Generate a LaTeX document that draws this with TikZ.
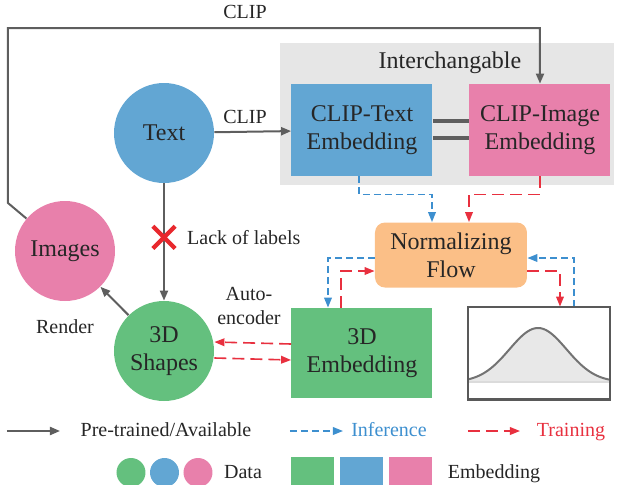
\documentclass[tikz,border=0pt]{standalone}
\usepackage{fontspec}
\setmainfont{Liberation Serif}
\usetikzlibrary{arrows.meta, shapes.misc}

\definecolor{dataBlue}{HTML}{62A6D3}
\definecolor{dataPink}{HTML}{E880AB}
\definecolor{dataGreen}{HTML}{64C07E}
\definecolor{flowOrange}{HTML}{FBBF87}
\definecolor{swapGray}{HTML}{E6E6E6}
\definecolor{preGray}{HTML}{5E5E5E}
\definecolor{infBlue}{HTML}{3D8FCF}
\definecolor{trnRed}{HTML}{E8303F}

\newcommand{\labfont}{\fontsize{12}{14}\selectfont}
\newcommand{\notefont}{\fontsize{10}{12}\selectfont}

\tikzset{
  data/.style={circle, minimum size=50pt, inner sep=0pt, align=center, font=\labfont, text=black!85},
  embed/.style={rectangle, minimum width=70.5pt, minimum height=46pt, inner sep=0pt, align=center, font=\labfont, text=black!85},
  pre/.style={draw=preGray, line width=1pt, -{Triangle[length=5pt, width=4pt]}},
  infer/.style={draw=infBlue, line width=0.8pt, dash pattern=on 3.5pt off 2pt, -{Triangle[length=5pt, width=3.8pt]}},
  train/.style={draw=trnRed, line width=0.8pt, dash pattern=on 6pt off 3pt, -{Triangle[length=5pt, width=3.8pt]}},
  note/.style={font=\notefont, text=black!85},
  keytext/.style={note, anchor=base},
}

\begin{document}
\begin{tikzpicture}[x=0.5pt, y=-0.5pt]
\useasboundingbox (0,0) rectangle (618,484);

% Interchangable block
\fill[swapGray] (280,43) rectangle (614,185);
\node[font=\labfont, text=black!85] (swap) at (450,63) {Interchangable};

% Define nodes
\node[data, fill=dataBlue] (text) at (164,133) {Text};
\node[data, fill=dataPink] (images) at (65,251) {Images};
\node[data, fill=dataGreen] (shapes) at (164,351) {3D\\Shapes};
\node[embed, fill=dataBlue] (cliptext) at (362,130) {CLIP-Text\\Embedding};
\node[embed, fill=dataPink] (clipimage) at (540,130) {CLIP-Image\\Embedding};
\node[embed, fill=dataGreen, minimum height=45pt] (embed3d) at (362,353) {3D\\Embedding};
\node[rectangle, rounded corners=5pt, fill=flowOrange, minimum width=76pt, minimum height=32.5pt,
  align=center, font=\labfont, text=black!85] (flow) at (451,255) {Normalizing\\Flow};
\node[rectangle, minimum width=70.5pt, minimum height=46pt, inner sep=0pt] (gauss) at (539,353) {};
\coordinate (bend) at (8,203);
\coordinate (corner) at (8,28);

% Pre-trained / available
\draw[pre] (images) -- (bend) -- (corner) -| (clipimage.north);
\node[note] (cliptop) at (245,12) {CLIP};
\draw[pre] (text) -- node[note, above, pos=0.4] {CLIP} (cliptext);
\draw[pre] (text) -- node[cross out, draw={rgb,255:red,232;green,40;blue,45}, line width=2.1pt, minimum size=9pt, inner sep=0pt, pos=0.46] (nolabel) {} (shapes);
\node[note, anchor=west] at ([xshift=2.5pt]nolabel.east) {Lack of labels};
\draw[pre] (shapes) -- (images);
\node[note] (render) at (65,327) {Render};
\node[note, align=center] (autoenc) at (249,306) {Auto-\\encoder};
\draw[preGray, line width=2.4pt] ([yshift=4.5pt]cliptext.east) -- ([yshift=4.5pt]clipimage.west);
\draw[preGray, line width=2.4pt] ([yshift=-4pt]cliptext.east) -- ([yshift=-4pt]clipimage.west);

% Inference and training
\draw[infer] ([xshift=-1.5pt]cliptext.south) -- ++(0,18) -| ([xshift=-9.5pt]flow.north);
\draw[train] (clipimage.south) -- ++(0,18) -| ([xshift=9pt]flow.north);
\draw[infer] ([yshift=-1.5pt]flow.west) -| ([xshift=-17pt]embed3d.north);
\draw[train] ([xshift=-10.5pt]embed3d.north) |- ([yshift=-8pt]flow.west);
\draw[train] ([yshift=-8pt]flow.east) -| ([xshift=10.5pt]gauss.north);
\draw[infer] ([xshift=17.5pt]gauss.north) |- ([yshift=-1.5pt]flow.east);
\draw[train] ([yshift=4.5pt]embed3d.west) -- ([yshift=4.5pt]shapes.east);
\draw[train] ([yshift=-3.5pt]shapes.east) -- ([yshift=-3.5pt]embed3d.west);

% Prior
\begin{scope}
\clip (gauss.south west) rectangle (gauss.north east);
\fill[black!9] plot[domain=469:610, samples=70] (\x,{382-54*exp(-((\x-538)^2)/1624)}) -- (610,382) -- (469,382) -- cycle;
\draw[black!14, line width=0.6pt] (469,382) -- (610,382);
\draw[black!55, line width=1pt] plot[domain=469:610, samples=70] (\x,{382-54*exp(-((\x-538)^2)/1624)});
\end{scope}
\draw[black!65, line width=1.1pt] (gauss.south west) rectangle (gauss.north east);

% Legend
\coordinate (preA) at (7,431);
\coordinate (preB) at (60,431);
\draw[pre] (preA) -- (preB);
\node[keytext] (preKey) at (166,436) {Pre-trained/Available};
\coordinate (infA) at (290,431);
\coordinate (infB) at (343,431);
\draw[infer] (infA) -- (infB);
\node[keytext, text=infBlue] (infKey) at (389,436) {Inference};
\coordinate (trnA) at (468,431);
\coordinate (trnB) at (520,431);
\draw[train] (trnA) -- (trnB);
\node[keytext, text=trnRed] (trnKey) at (571,436) {Training};
\foreach \c/\x in {dataGreen/131, dataBlue/164.5, dataPink/198}
  \node[circle, fill=\c, minimum size=14.5pt, inner sep=0pt] at (\x,472.5) {};
\node[keytext] (dataKey) at (243,478) {Data};
\foreach \c/\x in {dataGreen/313, dataBlue/361.5, dataPink/411}
  \node[rectangle, fill=\c, minimum width=21.5pt, minimum height=14pt, inner sep=0pt] at (\x,471) {};
\node[keytext] (embKey) at (494,478) {Embedding};

\end{tikzpicture}
\end{document}
